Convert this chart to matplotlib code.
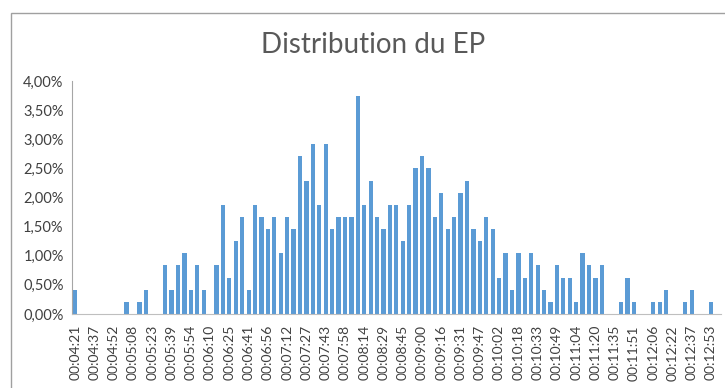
import numpy as np
import matplotlib
matplotlib.use("Agg")
import matplotlib.pyplot as plt
from matplotlib.patches import Rectangle
from matplotlib.ticker import FuncFormatter

plt.rcParams['font.family'] = ['Lato', 'DejaVu Sans']

# nombre d'observations par classe de durée (100 classes, une vide à la fin)
nombre = [2, 0, 0, 0, 0, 0, 0, 0, 1, 0,
          1, 2, 0, 0, 4, 2, 4, 5, 2, 4,
          2, 0, 4, 9, 3, 6, 8, 2, 9, 8,
          7, 8, 5, 8, 7, 13, 11, 14, 9, 14,
          7, 8, 8, 8, 18, 9, 11, 8, 7, 9,
          9, 6, 9, 12, 13, 12, 8, 10, 7, 8,
          10, 11, 7, 6, 8, 7, 3, 5, 2, 5,
          3, 5, 4, 2, 1, 4, 3, 3, 1, 5,
          4, 3, 4, 0, 0, 1, 3, 1, 0, 0,
          1, 1, 2, 0, 0, 1, 2, 0, 0, 1]

# une étiquette toutes les trois classes
etiquettes = ["00:04:21", "00:04:37", "00:04:52", "00:05:08", "00:05:23",
              "00:05:39", "00:05:54", "00:06:10", "00:06:25", "00:06:41",
              "00:06:56", "00:07:12", "00:07:27", "00:07:43", "00:07:58",
              "00:08:14", "00:08:29", "00:08:45", "00:09:00", "00:09:16",
              "00:09:31", "00:09:47", "00:10:02", "00:10:18", "00:10:33",
              "00:10:49", "00:11:04", "00:11:20", "00:11:35", "00:11:51",
              "00:12:06", "00:12:22", "00:12:37", "00:12:53"]

nombre = np.array(nombre)
part = nombre / nombre.sum()
x = np.arange(len(nombre))

fig = plt.figure(figsize=(7.25, 3.88), dpi=100)
ax = fig.add_axes([72 / 725, 74 / 388, 648.7 / 725, 233 / 388])

ax.bar(x, part, width=0.66, color='#5B9BD5')

ax.set_xlim(-0.5, len(nombre) + 0.5)
ax.set_ylim(0, 0.04)
ax.set_yticks(np.arange(0, 0.0401, 0.005))
ax.yaxis.set_major_formatter(FuncFormatter(lambda v, p: f"{v * 100:.2f}%".replace('.', ',')))
ax.set_xticks(x[::3][:len(etiquettes)])
ax.set_xticklabels(etiquettes, rotation=90)

ax.tick_params(axis='y', length=0, pad=6, labelsize=10.5, labelcolor='#404040')
ax.tick_params(axis='x', length=0, pad=8, labelsize=10, labelcolor='#404040')

for s in ['top', 'right']:
    ax.spines[s].set_visible(False)
ax.spines['left'].set_color('#A6A6A6')
ax.spines['bottom'].set_color('#BFBFBF')

fig.text(373 / 725, 1 - 45 / 388, "Distribution du EP", ha='center', va='center',
         fontsize=20, color='#595959')

# cadre du graphique
fig.add_artist(Rectangle((11 / 725, -0.2), 1.2, 1.2 - 13 / 388,
                         transform=fig.transFigure, fill=False,
                         edgecolor='#A0A0A0', linewidth=1))

fig.savefig("out.png", dpi=100)
